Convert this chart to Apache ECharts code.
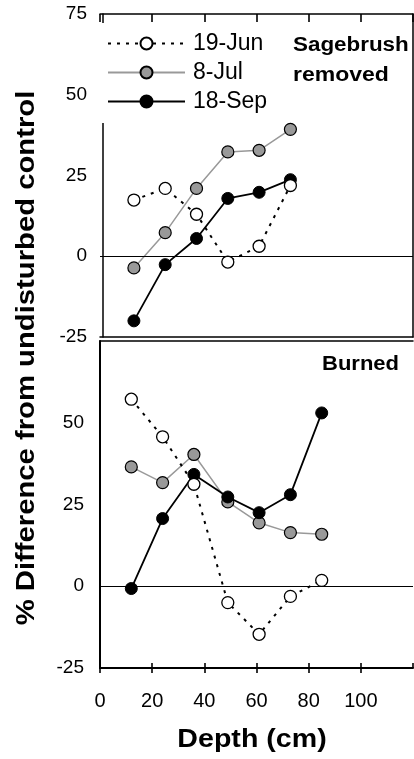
<!DOCTYPE html>
<html>
<head>
<meta charset="utf-8">
<script src="https://cdn.jsdelivr.net/npm/echarts@6/dist/echarts.min.js"></script>
<style>
  html, body { margin: 0; padding: 0; background: #fff; }
  #chart { width: 414px; height: 759px; }
</style>
</head>
<body>
<div id="chart"></div>
<script>
// depth (cm) of each sample
const topDepth = [13, 25, 37, 49, 61, 73];
const burnDepth = [12, 24, 36, 49, 61, 73, 85];

// % difference from undisturbed control, sagebrush removed panel
const sageJun = [17.4, 21, 13, -1.8, 3.1, 21.9];
const sageJul = [-3.6, 7.3, 21, 32.3, 32.8, 39.3];
const sageSep = [-20, -2.6, 5.5, 17.9, 19.8, 23.7];

// burned panel
const burnJun = [57.2, 45.7, 31.2, -5, -14.7, -3.1, 1.8];
const burnJul = [36.5, 31.7, 40.3, 25.8, 19.4, 16.4, 15.9];
const burnSep = [-0.7, 20.7, 34.2, 27.3, 22.5, 28, 53];

const dates = ['19-Jun', '8-Jul', '18-Sep'];
const yTicks = { min: -25, max: 75, interval: 25 };
const xTicks = { min: 0, max: 120, interval: 20 };

const FONT = '"Liberation Sans", Arial, sans-serif';

const pairs = (xs, ys) => xs.map((x, i) => [x, ys[i]]);

const styles = {
    '19-Jun': {
        lineStyle: { color: '#000', width: 2, type: [3, 6] },
        itemStyle: { color: '#fff', borderColor: '#000', borderWidth: 1.3 },
    },
    '8-Jul': {
        lineStyle: { color: '#999', width: 1.5 },
        itemStyle: { color: '#999', borderColor: '#000', borderWidth: 1.2 },
    },
    '18-Sep': {
        lineStyle: { color: '#000', width: 1.8 },
        itemStyle: { color: '#000', borderColor: '#000', borderWidth: 1 },
    },
};

const zeroLine = {
    silent: true,
    symbol: ['none', 'none'],
    label: { show: false },
    lineStyle: { color: '#000', width: 1, type: 'solid' },
    data: [{ yAxis: 0 }],
};

function makeSeries(name, data, axis, withZero) {
    const s = {
        name,
        type: 'line',
        xAxisIndex: axis.x,
        yAxisIndex: axis.y,
        data,
        symbol: 'circle',
        symbolSize: 12,
        lineStyle: styles[name].lineStyle,
        itemStyle: styles[name].itemStyle,
        emphasis: { disabled: true },
    };
    if (withZero) s.markLine = zeroLine;
    return s;
}

const topAx = { x: 0, y: 0 };
const botAx = { x: 2, y: 2 };

const chart = echarts.init(document.getElementById('chart'));

const axisLabel = { color: '#000', fontSize: 19, fontFamily: FONT };
const line = (w) => ({ show: true, onZero: false, lineStyle: { color: '#000', width: w } });
const tick = (inside, len) => ({ show: true, inside, length: len, lineStyle: { color: '#000', width: 1.6 } });
const off = { show: false };

chart.setOption({
    animation: false,
    grid: [
        { left: 100, right: 1, top: 14, height: 323 },
        { left: 100, right: 1, top: 341, height: 327 },
    ],
    xAxis: [
        {
            gridIndex: 0, type: 'value', position: 'top', ...xTicks,
            axisLine: line(1.5), axisTick: tick(true, 8),
            axisLabel: off, splitLine: off,
        },
        {
            gridIndex: 0, type: 'value', position: 'bottom', ...xTicks,
            axisLine: line(1.5), axisTick: off, axisLabel: off, splitLine: off,
        },
        {
            gridIndex: 1, type: 'value', position: 'bottom', ...xTicks,
            axisLine: line(2), axisTick: tick(false, 5),
            axisLabel: { ...axisLabel, fontSize: 20, margin: 23, showMaxLabel: false },
            splitLine: off,
        },
        {
            gridIndex: 1, type: 'value', position: 'bottom', ...xTicks,
            axisLine: { show: false, onZero: false }, axisTick: tick(true, 5),
            axisLabel: off, splitLine: off,
        },
        {
            gridIndex: 1, type: 'value', position: 'top', ...xTicks,
            axisLine: line(1.5), axisTick: off, axisLabel: off, splitLine: off,
        },
    ],
    yAxis: [
        {
            gridIndex: 0, type: 'value', position: 'left', offset: -3, ...yTicks,
            axisLine: line(1.5), axisTick: off,
            axisLabel: { ...axisLabel, margin: 16 },
            splitLine: off,
        },
        {
            gridIndex: 0, type: 'value', position: 'right', ...yTicks,
            axisLine: line(1.5), axisTick: off, axisLabel: off, splitLine: off,
        },
        {
            gridIndex: 1, type: 'value', position: 'left', ...yTicks,
            axisLine: line(2), axisTick: off,
            axisLabel: { ...axisLabel, margin: 16, showMaxLabel: false },
            splitLine: off,
        },
    ],
    legend: {
        data: dates,
        orient: 'vertical',
        left: 97,
        top: 23,
        padding: [9, 10, 10, 10],
        backgroundColor: '#fff',
        itemWidth: 77,
        itemHeight: 15,
        itemGap: 6,
        z: 10,
        textStyle: { color: '#000', fontSize: 23, lineHeight: 20, fontFamily: FONT, padding: [0, 0, 0, 3] },
    },
    graphic: [
        {
            type: 'text', x: 293, y: 45, scaleX: 1.12, z: 20,
            style: { text: 'Sagebrush', font: 'bold 20px ' + FONT, fill: '#000',
                textAlign: 'left', align: 'left', textVerticalAlign: 'middle', verticalAlign: 'middle' },
        },
        {
            type: 'text', x: 293, y: 75, scaleX: 1.15, z: 20,
            style: { text: 'removed', font: 'bold 20px ' + FONT, fill: '#000',
                textAlign: 'left', align: 'left', textVerticalAlign: 'middle', verticalAlign: 'middle' },
        },
        {
            type: 'text', x: 322, y: 364, scaleX: 1.1, z: 20,
            style: { text: 'Burned', font: 'bold 20px ' + FONT, fill: '#000',
                textAlign: 'left', align: 'left', textVerticalAlign: 'middle', verticalAlign: 'middle' },
        },
        {
            type: 'text', x: 252, y: 740, scaleX: 1.1, z: 20,
            style: { text: 'Depth (cm)', font: 'bold 26px ' + FONT, fill: '#000',
                textAlign: 'center', align: 'center', textVerticalAlign: 'middle', verticalAlign: 'middle' },
        },
        {
            type: 'text', x: 27, y: 358, rotation: Math.PI / 2, scaleX: 1.17, z: 20,
            style: { text: '% Difference from undisturbed control', font: 'bold 25px ' + FONT, fill: '#000',
                textAlign: 'center', align: 'center', textVerticalAlign: 'middle', verticalAlign: 'middle' },
        },
    ],
    series: [
        makeSeries('8-Jul', pairs(topDepth, sageJul), topAx, true),
        makeSeries('18-Sep', pairs(topDepth, sageSep), topAx, false),
        makeSeries('19-Jun', pairs(topDepth, sageJun), topAx, false),
        makeSeries('8-Jul', pairs(burnDepth, burnJul), botAx, true),
        makeSeries('18-Sep', pairs(burnDepth, burnSep), botAx, false),
        makeSeries('19-Jun', pairs(burnDepth, burnJun), botAx, false),
    ],
});
</script>
</body>
</html>
